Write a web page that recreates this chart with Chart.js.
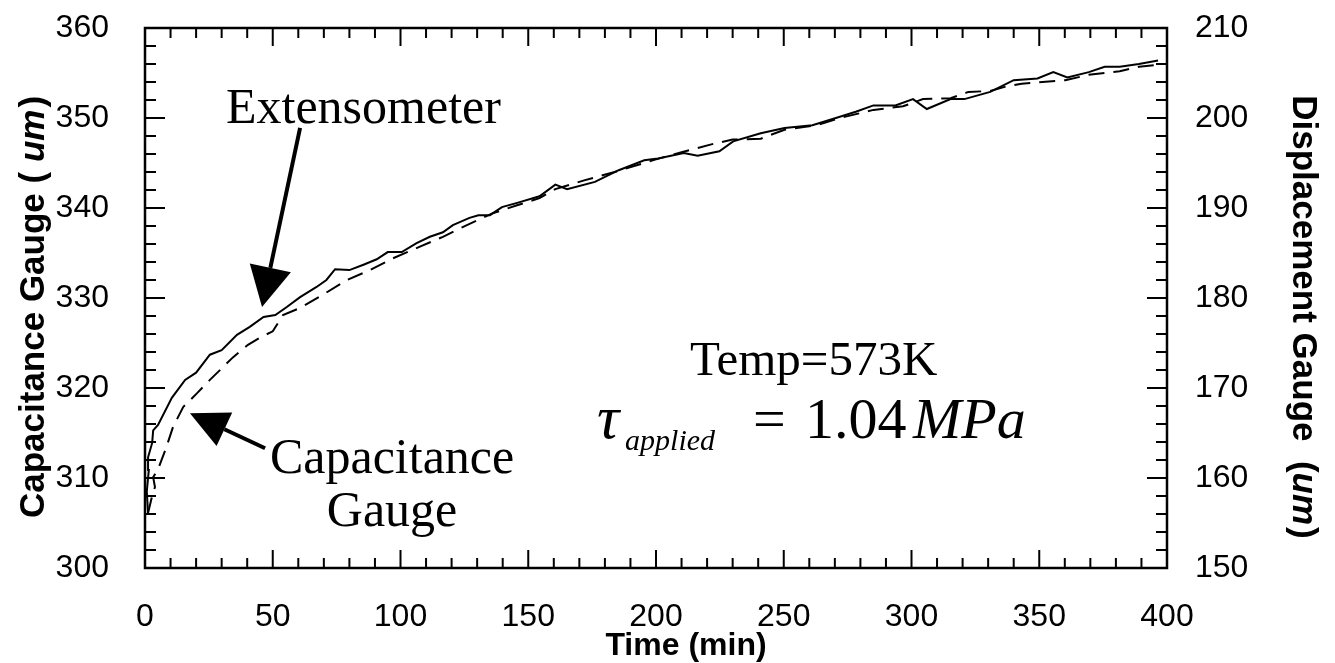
<!DOCTYPE html>
<html>
<head>
<meta charset="utf-8">
<script src="https://cdn.jsdelivr.net/npm/chart.js@4.4.0/dist/chart.umd.min.js"></script>
<style>
  html, body { margin: 0; padding: 0; background: #fff; }
</style>
</head>
<body>
<canvas id="creepChart" width="1335" height="663"></canvas>
<script>
// Extensometer (solid line, right axis, displacement gauge um)
const extTime = [1.2, 0.7, 1.5, 1.2, 2.8, 3.2, 5.1, 10.5, 15.7, 20, 25.4, 30, 36, 41, 46.4, 51, 55.5, 60.7, 67, 71, 74.4, 80, 85.5, 90.7, 95, 100.5,
  106.3, 111.5, 116.6, 120.5, 127, 130.5, 135, 139.7, 146, 154.4, 160.6, 165.2, 176.1, 185.4, 195.4, 200.8, 210.9, 216.3, 224.8, 230.2,
  241, 250.3, 261.2, 270.4, 278.2, 285.1, 293.7, 300.6, 306, 315.3, 320.7, 330.8, 340, 349.3, 355.5, 361, 369.4, 375.6, 381.5, 389, 396.5];
const extDisp = [156.1, 158.5, 160.9, 162.3, 163.9, 165.3, 165.9, 168.9, 170.9, 171.7, 173.7, 174.2, 175.9, 176.8, 177.9, 178.1, 179, 180.1, 181.2, 182, 183.2, 183.1, 183.7, 184.3, 185.1, 185.1,
  186.1, 186.8, 187.3, 188.1, 188.9, 189.2, 189.2, 190.1, 190.6, 191.3, 192.6, 192.1, 192.9, 194.2, 195.3, 195.5, 196.1, 195.8, 196.3, 197.4,
  198.3, 198.9, 199.2, 200, 200.7, 201.4, 201.4, 202.1, 201, 202.1, 202.1, 202.9, 204.2, 204.4, 205.1, 204.5, 205.1, 205.7, 205.7, 206, 206.4];

// Capacitance gauge (dashed line, left axis, um)
const capTime = [1.2, 2.7, 3.9, 3.2, 5, 8.2, 11, 15, 20.3, 25.4, 34.4, 40.3, 45, 50, 54, 60.7, 70.4, 79, 88, 97, 107.6, 116.6, 126, 136,
  145.6, 154.4, 160.6, 172.2, 183.8, 193.1, 200, 210, 222, 230, 241, 250.3, 263, 272, 285.1, 296.7, 304.5, 315.3, 322.3, 330.8, 337,
  343.1, 360.2, 369.4, 381.5, 389, 396.5];
const capGauge = [306.1, 307.9, 309, 310.1, 310.9, 313.3, 315.7, 317.9, 319.4, 320.9, 323.4, 324.8, 325.6, 326.3, 328.1, 328.9, 330.5, 332, 333.1, 334.4, 335.7, 336.8, 338.1, 339.4,
  340.3, 341.1, 342.1, 343.1, 344, 344.8, 345.4, 346.2, 347.1, 347.6, 347.7, 348.7, 349.2, 350, 350.9, 351.3, 352.1, 352.2, 352.9, 353,
  353.5, 353.8, 354.2, 354.8, 355.2, 355.7, 355.9];

const timeTicks = [0, 50, 100, 150, 200, 250, 300, 350, 400];
const gaugeTicks = [300, 310, 320, 330, 340, 350, 360];
const dispTicks = [150, 160, 170, 180, 190, 200, 210];

const SANS = '"Liberation Sans", Arial, Helvetica, sans-serif';
const SERIF = '"Liberation Serif", "Times New Roman", serif';

function toPoints(xs, ys) {
  return xs.map((t, i) => ({ x: t, y: ys[i] }));
}

function arrow(ctx, x0, y0, x1, y1, headLen, headW) {
  const ang = Math.atan2(y1 - y0, x1 - x0);
  const bx = x1 - headLen * Math.cos(ang);
  const by = y1 - headLen * Math.sin(ang);
  ctx.beginPath();
  ctx.lineWidth = 4;
  ctx.moveTo(x0, y0);
  ctx.lineTo(bx, by);
  ctx.stroke();
  ctx.beginPath();
  ctx.moveTo(x1, y1);
  ctx.lineTo(bx + headW / 2 * Math.sin(ang), by - headW / 2 * Math.cos(ang));
  ctx.lineTo(bx - headW / 2 * Math.sin(ang), by + headW / 2 * Math.cos(ang));
  ctx.closePath();
  ctx.fill();
}

// draws text pieces one after another, returns total width
function runs(ctx, pieces, x, y, measureOnly) {
  let cx = x;
  for (const p of pieces) {
    ctx.font = p.font;
    if (!measureOnly) ctx.fillText(p.text, cx, y + (p.dy || 0));
    cx += ctx.measureText(p.text).width + (p.gap || 0);
  }
  return cx - x;
}

// vertical axes: no extra room above/below the plot for the end labels
function noEndPadding(s) {
  s.paddingTop = 0;
  s.paddingBottom = 0;
}

const frameAndNotes = {
  id: 'frameAndNotes',
  afterDatasetsDraw(chart) {
    const { ctx, chartArea: a, scales: { x, y, y2 } } = chart;
    ctx.save();
    ctx.strokeStyle = '#000';
    ctx.fillStyle = '#000';

    // frame
    ctx.lineWidth = 2.5;
    ctx.strokeRect(a.left, a.top, a.right - a.left, a.bottom - a.top);

    // inward ticks, all four sides
    ctx.lineWidth = 2;
    ctx.beginPath();
    for (let t = 0; t <= 400; t += 10) {
      const px = x.getPixelForValue(t);
      const len = t % 50 === 0 ? 18 : 10;
      ctx.moveTo(px, a.bottom); ctx.lineTo(px, a.bottom - len);
      ctx.moveTo(px, a.top); ctx.lineTo(px, a.top + len);
    }
    for (let v = 300; v <= 360; v += 2) {
      const py = y.getPixelForValue(v);
      const len = v % 10 === 0 ? 20 : 11;
      ctx.moveTo(a.left, py); ctx.lineTo(a.left + len, py);
    }
    for (let v = 150; v <= 210; v += 2) {
      const py = y2.getPixelForValue(v);
      const len = v % 10 === 0 ? 20 : 11;
      ctx.moveTo(a.right, py); ctx.lineTo(a.right - len, py);
    }
    ctx.stroke();

    // annotations, anchored in data units
    const X = t => x.getPixelForValue(t);
    const Y = v => y.getPixelForValue(v);

    ctx.textBaseline = 'alphabetic';
    ctx.textAlign = 'left';
    ctx.font = '50px ' + SERIF;
    ctx.fillText('Extensometer', X(31.7), Y(349.4));
    arrow(ctx, X(60.7), Y(348.9), X(45.8), Y(329), 40, 42);

    ctx.textAlign = 'center';
    ctx.fillText('Capacitance', X(96.7), Y(310.6));
    ctx.fillText('Gauge', X(96.7), Y(304.7));
    arrow(ctx, X(47), Y(313.3), X(17.6), Y(317.2), 38, 37);

    ctx.textAlign = 'left';
    ctx.font = '49px ' + SERIF;
    ctx.fillText('Temp=573K', X(213.3), Y(321.4));

    ctx.font = 'italic 62px ' + SERIF;
    ctx.fillText('\u03C4', X(176.9), Y(314.4));
    ctx.font = 'italic 30px ' + SERIF;
    ctx.fillText('applied', X(187.9), Y(313.1));
    ctx.font = '58px ' + SERIF;
    ctx.fillText('=', X(238), Y(314.4));
    ctx.fillText('1.04', X(258.3), Y(314.4));
    ctx.font = 'italic 58px ' + SERIF;
    ctx.fillText('MPa', X(300.6), Y(314.4));

    // axis titles
    const leftT = [
      { text: 'Capacitance Gauge ( ', font: 'bold 35px ' + SANS },
      { text: 'um', font: 'italic bold 35px ' + SANS, gap: 2 },
      { text: ')', font: 'bold 35px ' + SANS }
    ];
    ctx.save();
    ctx.translate(44, 307);
    ctx.rotate(-Math.PI / 2);
    let w = runs(ctx, leftT, 0, 0, true);
    runs(ctx, leftT, -w / 2, 0);
    ctx.restore();

    const rightT = [
      { text: 'Displacement Gauge  (', font: 'bold 35px ' + SANS },
      { text: 'um', font: 'italic bold 35px ' + SANS, gap: 2 },
      { text: ')', font: 'bold 35px ' + SANS }
    ];
    ctx.save();
    ctx.translate(1293, 317);
    ctx.rotate(Math.PI / 2);
    w = runs(ctx, rightT, 0, 0, true);
    runs(ctx, rightT, -w / 2, 0);
    ctx.restore();

    ctx.textAlign = 'center';
    ctx.font = 'bold 32px ' + SANS;
    ctx.fillText('Time (min)', 686, 655);

    ctx.restore();
  }
};

new Chart(document.getElementById('creepChart'), {
  type: 'scatter',
  data: {
    datasets: [
      {
        label: 'Extensometer',
        data: toPoints(extTime, extDisp),
        yAxisID: 'y2',
        showLine: true,
        borderColor: '#000',
        borderWidth: 2,
        pointRadius: 0,
        tension: 0
      },
      {
        label: 'Capacitance Gauge',
        data: toPoints(capTime, capGauge),
        yAxisID: 'y',
        showLine: true,
        borderColor: '#000',
        borderWidth: 2,
        borderDash: [16, 9],
        pointRadius: 0,
        tension: 0
      }
    ]
  },
  options: {
    responsive: false,
    animation: false,
    devicePixelRatio: 1,
    layout: { padding: { top: 28 } },
    plugins: { legend: { display: false }, tooltip: { enabled: false } },
    scales: {
      x: {
        type: 'linear', position: 'bottom', min: 0, max: 400,
        afterBuildTicks: s => { s.ticks = timeTicks.map(v => ({ value: v })); },
        afterFit: s => { s.height = 95; s.paddingLeft = 0; s.paddingRight = 0; },
        grid: { display: false, drawTicks: false },
        border: { display: false },
        ticks: { color: '#000', font: { family: SANS, size: 32 }, padding: 30, maxRotation: 0 }
      },
      y: {
        type: 'linear', position: 'left', min: 300, max: 360,
        afterBuildTicks: s => { s.ticks = gaugeTicks.map(v => ({ value: v })); },
        afterFit: s => { s.width = 145; noEndPadding(s); },
        grid: { display: false, drawTicks: false },
        border: { display: false },
        ticks: { color: '#000', font: { family: SANS, size: 32 }, padding: 36 }
      },
      y2: {
        type: 'linear', position: 'right', min: 150, max: 210,
        afterBuildTicks: s => { s.ticks = dispTicks.map(v => ({ value: v })); },
        afterFit: s => { s.width = 168; noEndPadding(s); },
        grid: { display: false, drawTicks: false },
        border: { display: false },
        ticks: { color: '#000', font: { family: SANS, size: 32 }, padding: 28 }
      }
    }
  },
  plugins: [frameAndNotes]
});
</script>
</body>
</html>
